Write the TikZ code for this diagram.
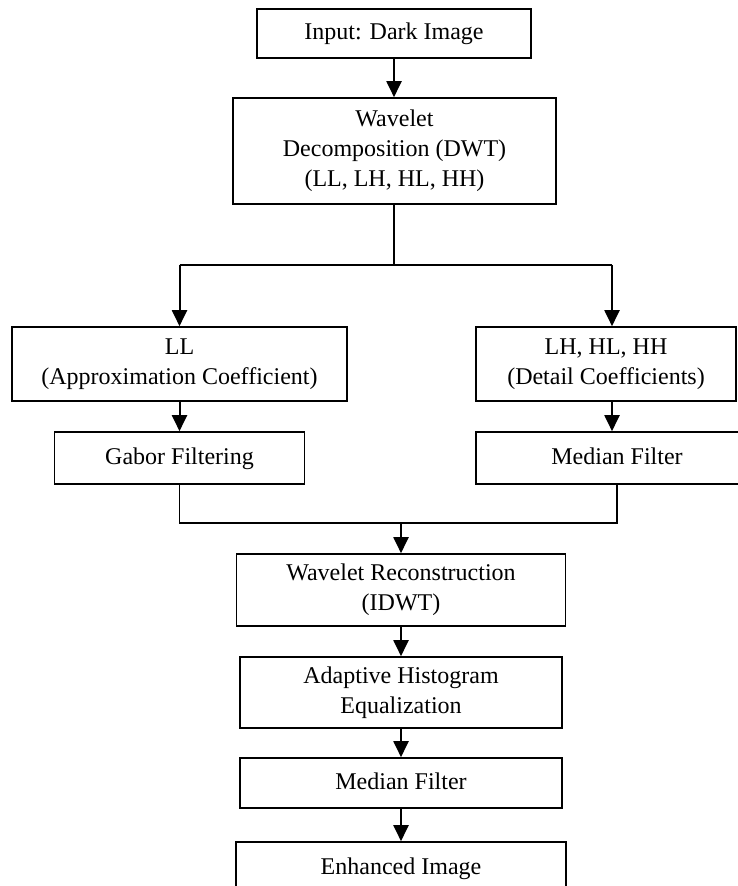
\documentclass[tikz,border=0pt]{standalone}
\usepackage{fontspec}
\setmainfont{Liberation Serif}
\usetikzlibrary{arrows.meta}
\tikzset{
  stage/.style={draw, line width=0.8pt, align=center, inner sep=0pt, font=\fontsize{12}{15}\selectfont},
  flow/.style={line width=1pt, -{Triangle[width=7.5pt,length=8pt]}},
  link/.style={line width=0.8pt}
}
\begin{document}
\begin{tikzpicture}[x=0.5pt,y=-0.5pt]
  \useasboundingbox (0,0) rectangle (737,886);
  \node[stage, minimum width=137pt, minimum height=24.5pt] (input) at (394,33.5) {Input: Dark Image};
  \node[stage, minimum width=161.5pt, minimum height=53pt] (dwt) at (394.5,151) {Wavelet\\Decomposition (DWT)\\(LL, LH, HL, HH)};
  \node[stage, minimum width=167.5pt, minimum height=37pt] (ll) at (179.5,364) {LL\\(Approximation Coefficient)};
  \node[stage, minimum width=130pt, minimum height=37pt] (lh) at (606,364) {LH, HL, HH\\(Detail Coefficients)};
  \node[stage, minimum width=125pt, minimum height=26pt] (gabor) at (179.5,458) {\strut Gabor Filtering};
  \node[stage, minimum width=141pt, minimum height=26pt] (medr) at (617,458) {\strut Median Filter};
  \node[stage, minimum width=164.5pt, minimum height=36pt] (recon) at (401,590) {Wavelet Reconstruction\\(IDWT)};
  \node[stage, minimum width=161pt, minimum height=35.5pt] (ahe) at (401,692.5) {Adaptive Histogram\\Equalization};
  \node[stage, minimum width=161pt, minimum height=25pt] (med) at (401,783) {\strut Median Filter};
  \node[stage, minimum width=165pt, minimum height=26pt] (enh) at (401,868) {\strut Enhanced Image};
  \coordinate (sl) at (179.5,265);
  \coordinate (sr) at (612,265);
  \coordinate (jn) at (401,523);
  \draw[flow] (input.south) -- (input.south |- dwt.north);
  \draw[link] (input.south |- dwt.south) -- (input.south |- sl);
  \draw[link] (sl) -- (sr);
  \draw[flow] (sl) -- (sl |- ll.north);
  \draw[flow] (sr) -- (sr |- lh.north);
  \draw[flow] (ll) -- (gabor);
  \draw[flow] (sr |- lh.south) -- (sr |- medr.north);
  \draw[link] (gabor.south) |- (jn) -| (medr.south);
  \draw[flow] (jn) -- (recon.north);
  \draw[flow] (recon) -- (ahe);
  \draw[flow] (ahe) -- (med);
  \draw[flow] (med) -- (enh);
\end{tikzpicture}
\end{document}
